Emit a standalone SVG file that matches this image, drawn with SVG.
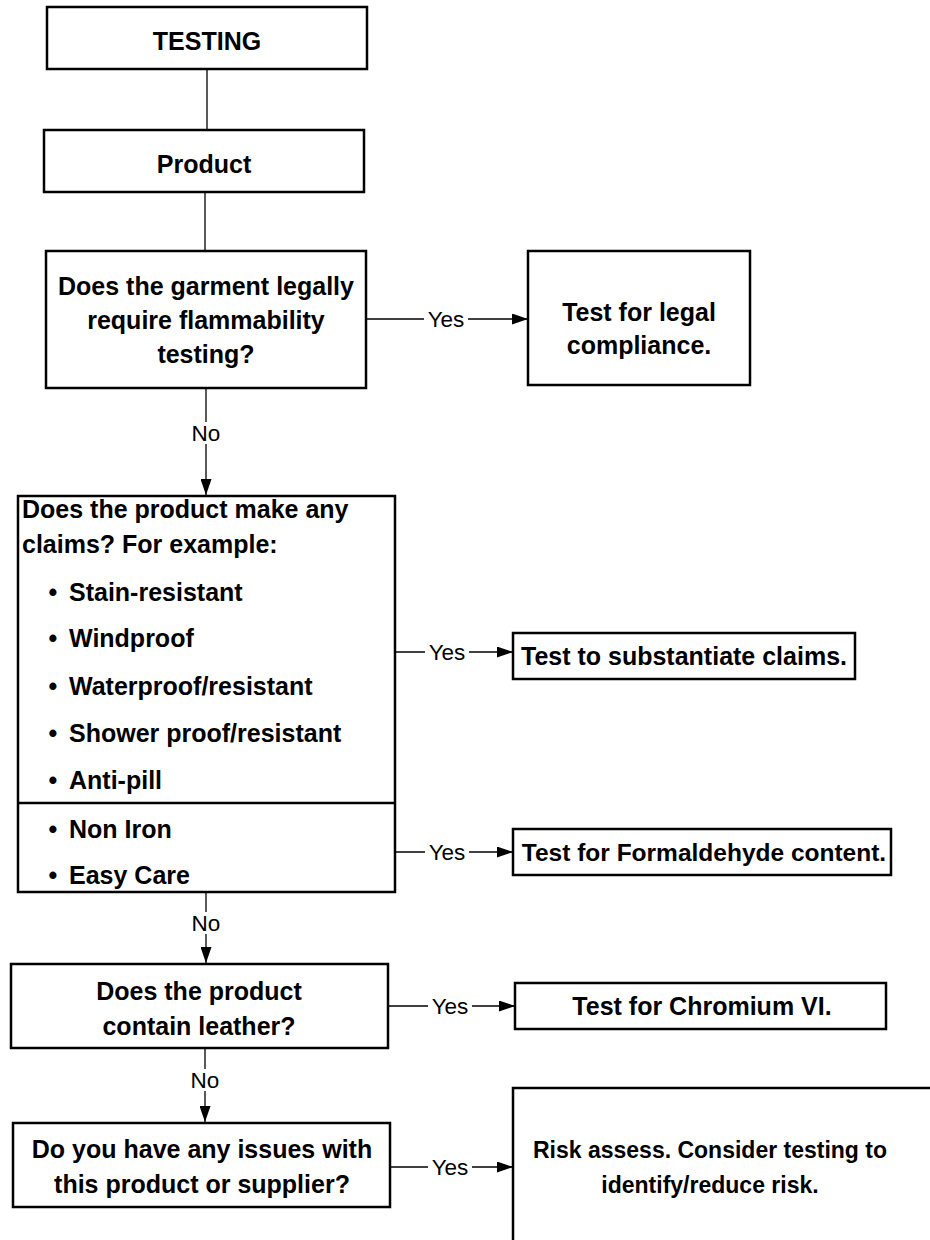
<svg xmlns="http://www.w3.org/2000/svg" width="930" height="1240" viewBox="0 0 930 1240">
<style>
.box{fill:#fff;stroke:#000;stroke-width:2.5}
.t{font-family:"Liberation Sans",Arial,sans-serif;font-weight:bold;font-size:25px;fill:#000}
.c{text-anchor:middle}
.lbl{font-family:"Liberation Sans",Arial,sans-serif;font-size:22.5px;fill:#000;text-anchor:middle}
.con{stroke:#000;stroke-width:1.3;fill:none}
.bg{fill:#fff}
</style>
<defs>
<marker id="arr" markerUnits="userSpaceOnUse" viewBox="0 0 16 11" refX="16" refY="5.5" markerWidth="16" markerHeight="11" orient="auto">
<path d="M0,0 L16,5.5 L0,11 z" fill="#000"/>
</marker>
</defs>
<rect width="930" height="1240" fill="#fff"/>
<g id="connectors">
<line class="con" x1="207" y1="69" x2="207" y2="130"/>
<line class="con" x1="205" y1="192" x2="205" y2="251"/>
<line class="con" x1="206" y1="388" x2="206" y2="495" marker-end="url(#arr)"/>
<rect class="bg" x="191" y="422" width="30" height="22"/>
<text class="lbl" x="206" y="441">No</text>
<line class="con" x1="366" y1="319" x2="528" y2="319" marker-end="url(#arr)"/>
<rect class="bg" x="424" y="308" width="44" height="22"/>
<text class="lbl" x="446" y="327">Yes</text>
<line class="con" x1="395" y1="652" x2="513" y2="652" marker-end="url(#arr)"/>
<rect class="bg" x="425" y="641" width="44" height="22"/>
<text class="lbl" x="447" y="660">Yes</text>
<line class="con" x1="395" y1="852" x2="513" y2="852" marker-end="url(#arr)"/>
<rect class="bg" x="425" y="841" width="44" height="22"/>
<text class="lbl" x="447" y="860">Yes</text>
<line class="con" x1="206" y1="892" x2="206" y2="963" marker-end="url(#arr)"/>
<rect class="bg" x="191" y="912" width="30" height="22"/>
<text class="lbl" x="206" y="931">No</text>
<line class="con" x1="388" y1="1006" x2="515" y2="1006" marker-end="url(#arr)"/>
<rect class="bg" x="428" y="995" width="44" height="22"/>
<text class="lbl" x="450" y="1014">Yes</text>
<line class="con" x1="205" y1="1048" x2="205" y2="1122" marker-end="url(#arr)"/>
<rect class="bg" x="190" y="1069" width="30" height="22"/>
<text class="lbl" x="205" y="1088">No</text>
<line class="con" x1="390" y1="1167" x2="513" y2="1167" marker-end="url(#arr)"/>
<rect class="bg" x="428" y="1156" width="44" height="22"/>
<text class="lbl" x="450" y="1175">Yes</text>
</g>
<g id="testing">
<rect class="box" x="47" y="7" width="320" height="62"/>
<text class="t c" x="207" y="50">TESTING</text>
</g>
<g id="product">
<rect class="box" x="44" y="130" width="320" height="62"/>
<text class="t c" x="204" y="173">Product</text>
</g>
<g id="flammability">
<rect class="box" x="46" y="251" width="320" height="137"/>
<text class="t c" x="206" y="295">Does the garment legally</text>
<text class="t c" x="206" y="329">require flammability</text>
<text class="t c" x="206" y="363">testing?</text>
</g>
<g id="legal">
<rect class="box" x="528" y="251" width="222" height="134"/>
<text class="t c" x="639" y="321">Test for legal</text>
<text class="t c" x="639" y="354">compliance.</text>
</g>
<g id="claims">
<rect class="box" x="18" y="496" width="377" height="396"/>
<line stroke="#000" stroke-width="2.5" x1="18" y1="803" x2="395" y2="803"/>
<text class="t" x="22" y="518">Does the product make any</text>
<text class="t" x="22" y="553">claims? For example:</text>
<text class="t c" x="53" y="601">•</text><text class="t" x="69" y="601">Stain-resistant</text>
<text class="t c" x="53" y="647">•</text><text class="t" x="69" y="647">Windproof</text>
<text class="t c" x="53" y="695">•</text><text class="t" x="69" y="695">Waterproof/resistant</text>
<text class="t c" x="53" y="742">•</text><text class="t" x="69" y="742">Shower proof/resistant</text>
<text class="t c" x="53" y="789">•</text><text class="t" x="69" y="789">Anti-pill</text>
<text class="t c" x="53" y="838">•</text><text class="t" x="69" y="838">Non Iron</text>
<text class="t c" x="53" y="884">•</text><text class="t" x="69" y="884">Easy Care</text>
</g>
<g id="substantiate">
<rect class="box" x="513" y="633" width="342" height="46"/>
<text class="t c" x="684" y="665">Test to substantiate claims.</text>
</g>
<g id="formaldehyde">
<rect class="box" x="513" y="829" width="378" height="46"/>
<text class="t c" x="704" y="861" style="font-size:24.5px">Test for Formaldehyde content.</text>
</g>
<g id="leather">
<rect class="box" x="11" y="964" width="377" height="84"/>
<text class="t c" x="199" y="1000">Does the product</text>
<text class="t c" x="199" y="1035">contain leather?</text>
</g>
<g id="chromium">
<rect class="box" x="515" y="983" width="371" height="46"/>
<text class="t c" x="702" y="1015">Test for Chromium VI.</text>
</g>
<g id="issues">
<rect class="box" x="13" y="1123" width="377" height="84"/>
<text class="t c" x="202" y="1158">Do you have any issues with</text>
<text class="t c" x="202" y="1193">this product or supplier?</text>
</g>
<g id="risk">
<rect class="box" x="513" y="1088" width="450" height="200"/>
<text class="t c" x="710" y="1158" style="font-size:23px">Risk assess. Consider testing to</text>
<text class="t c" x="710" y="1193" style="font-size:23px">identify/reduce risk.</text>
</g>
</svg>
